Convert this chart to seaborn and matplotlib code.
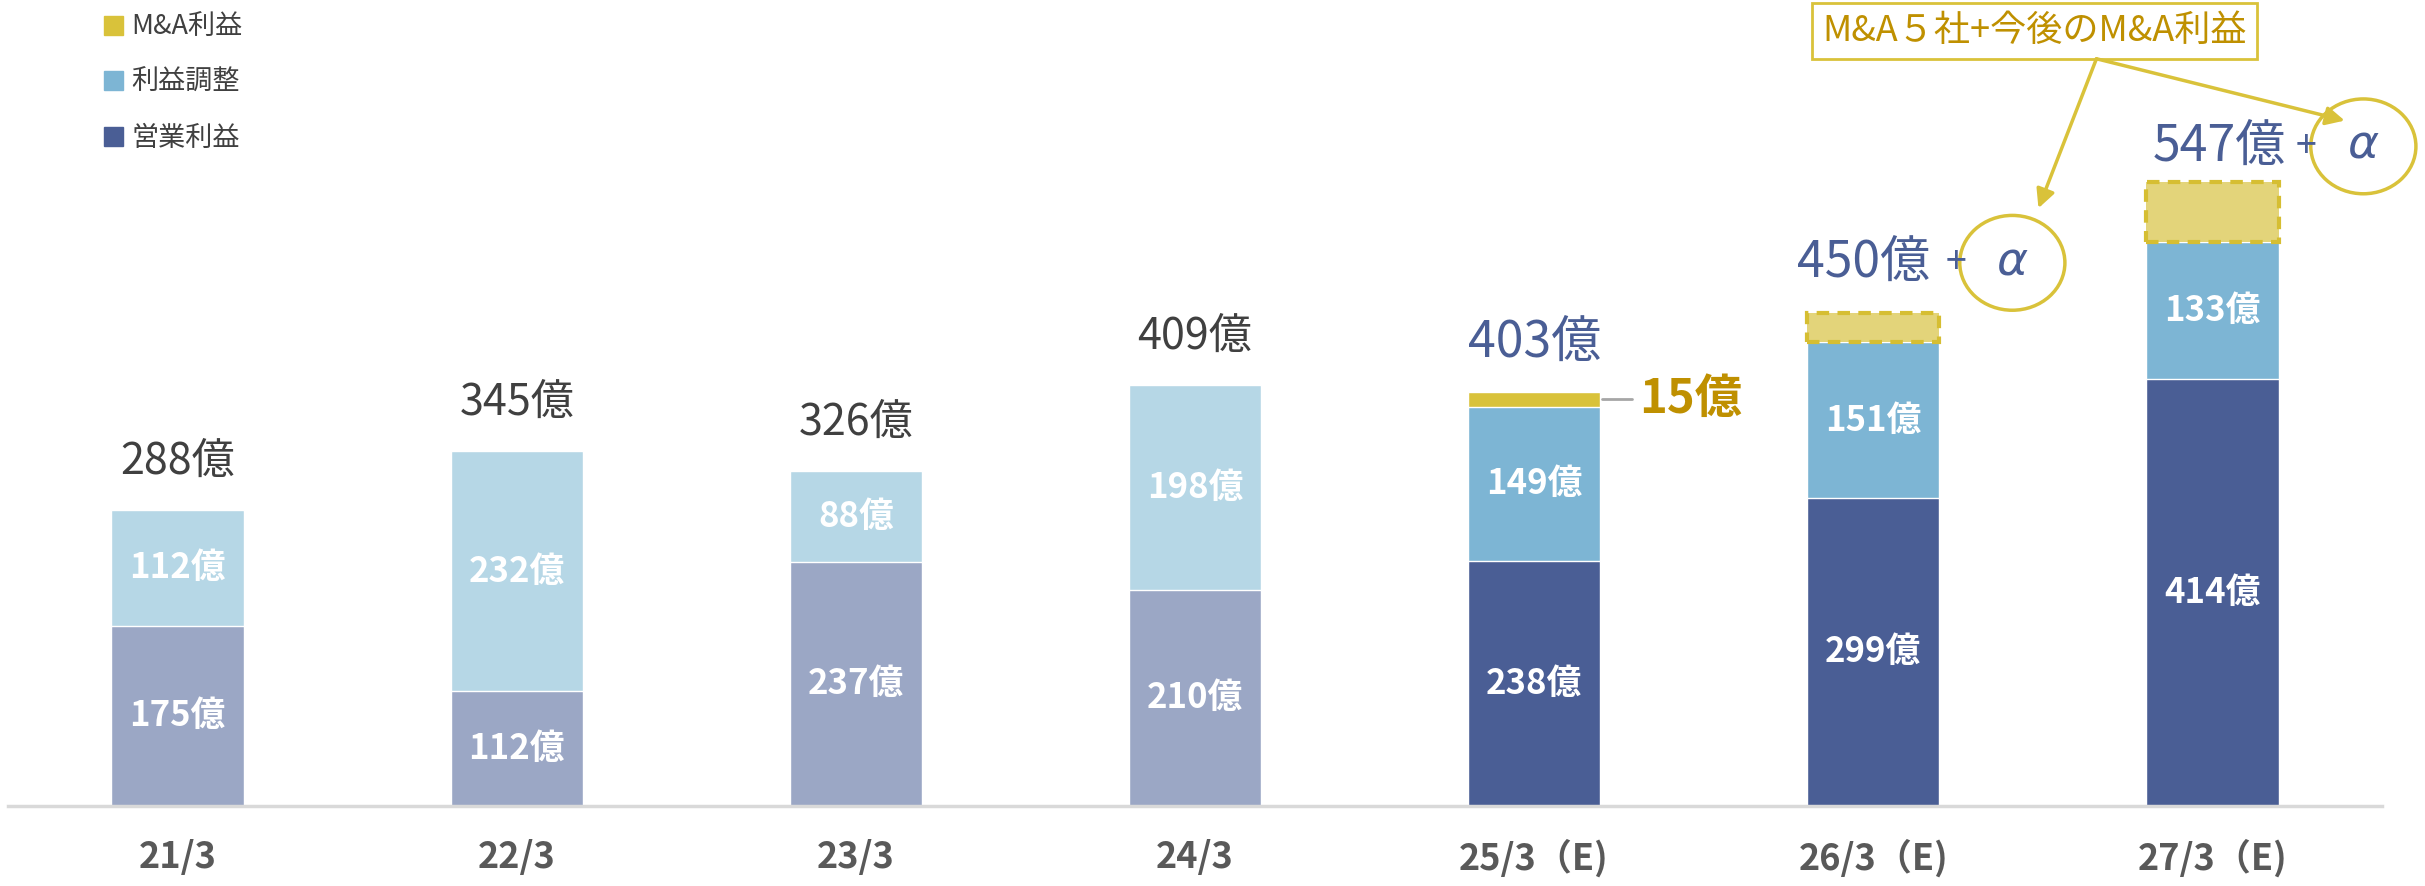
import numpy as np
import pandas as pd
import matplotlib
matplotlib.use('Agg')
import matplotlib.pyplot as plt
from matplotlib.patches import Ellipse, Patch
import seaborn as sns

sns.set_style('white')
plt.rcParams['font.family'] = ['Noto Sans CJK JP', 'DejaVu Sans']

# data
years = ['21/3', '22/3', '23/3', '24/3', '25/3（E)', '26/3（E)', '27/3（E)']
op_profit = [175, 112, 237, 210, 238, 299, 414]      # 営業利益
adjust = [112, 232, 88, 198, 149, 151, 133]          # 利益調整
ma_profit = [0, 0, 0, 0, 15, 0, 0]                   # M&A利益
ma_future = [0, 0, 0, 0, 0, 28, 58]                  # dashed "+α" boxes
totals = [288, 345, 326, 409, 403, 450, 547]

op_colors = ['#9BA7C5'] * 4 + ['#4A5E95'] * 3
adj_colors = ['#B6D7E6'] * 4 + ['#7DB5D4'] * 3
ma_color = '#D9C23A'
navy = '#4A5E95'

df = pd.DataFrame({'year': years, 'op': op_profit, 'adj': adjust, 'ma': ma_profit})
df['lvl2'] = df['op'] + df['adj']
df['lvl3'] = df['lvl2'] + df['ma']

fig = plt.figure(figsize=(24.25, 8.86), dpi=100)
ax = fig.add_axes([8 / 2425, 80 / 886, 2374 / 2425, 806 / 886])

W = 0.39
# stacked by overlap: tallest first
sns.barplot(data=df, x='year', y='lvl3', hue='year', palette=[ma_color] * 7,
            width=W, saturation=1, legend=False, ax=ax)
sns.barplot(data=df, x='year', y='lvl2', hue='year', palette=adj_colors,
            width=W, saturation=1, legend=False, ax=ax)
sns.barplot(data=df, x='year', y='op', hue='year', palette=op_colors,
            width=W, saturation=1, legend=False, ax=ax)

# dashed future M&A boxes
xs = np.arange(len(years))
for i in range(len(years)):
    if ma_future[i] > 0:
        ax.bar(xs[i], ma_future[i], bottom=df['lvl2'][i], width=W,
               color='#E3D47A', edgecolor='#D6BE32', linewidth=3,
               linestyle=(0, (3, 2)))

# labels inside bars
for i in range(len(years)):
    ax.text(xs[i], op_profit[i] / 2, f'{op_profit[i]}億', ha='center', va='center',
            color='white', fontsize=25, fontweight='bold')
    ax.text(xs[i], op_profit[i] + adjust[i] / 2, f'{adjust[i]}億', ha='center',
            va='center', color='white', fontsize=25, fontweight='bold')

# totals above bars
for i in range(4):
    ax.text(xs[i], totals[i] + 46, f'{totals[i]}億', ha='center', va='center',
            color='#404040', fontsize=31)
ax.text(4, 449, '403億', ha='center', va='center', color=navy, fontsize=36)
ax.plot([4.2, 4.29], [394.5, 394.5], color='#A6A6A6', lw=2)
ax.text(4.31, 395, '15億', ha='left', va='center', color='#BF9000',
        fontsize=34, fontweight='bold')

ax.text(4.97, 527, '450億', ha='center', va='center', color=navy, fontsize=36)
ax.text(5.245, 527, '+', ha='center', va='center', color=navy, fontsize=27)
ax.add_patch(Ellipse((5.41, 527), 0.31, 92, fill=False, ec=ma_color, lw=2.5,
                     clip_on=False))
ax.text(5.41, 527, 'α', ha='center', va='center', color=navy, fontsize=34,
        family='DejaVu Sans', style='italic')

ax.text(6.02, 640, '547億', ha='center', va='center', color=navy, fontsize=36)
ax.text(6.275, 640, '+', ha='center', va='center', color=navy, fontsize=27)
ax.add_patch(Ellipse((6.445, 640), 0.31, 92, fill=False, ec=ma_color, lw=2.5,
                     clip_on=False))
ax.text(6.445, 640, 'α', ha='center', va='center', color=navy, fontsize=34,
        family='DejaVu Sans', style='italic', clip_on=False)

# callout box and arrows
ax.text(5.475, 752, 'M&A５社+今後のM&A利益', ha='center', va='center',
        color='#BF9000', fontsize=26,
        bbox=dict(boxstyle='square,pad=0.28', fc='white', ec=ma_color, lw=2))
arrow = dict(arrowstyle='-|>', color=ma_color, lw=2.5, mutation_scale=28,
             shrinkA=0, shrinkB=0)
ax.annotate('', xy=(5.487, 580), xytext=(5.658, 725), arrowprops=arrow)
ax.annotate('', xy=(6.39, 665), xytext=(5.658, 725), arrowprops=arrow)

# axes styling
ax.set_xlim(-0.5, 6.5)
ax.set_ylim(0, 782)
ax.set_xlabel('')
ax.set_ylabel('')
ax.set_yticks([])
for s in ['top', 'left', 'right']:
    ax.spines[s].set_visible(False)
ax.spines['bottom'].set_color('#D9D9D9')
ax.spines['bottom'].set_linewidth(2.5)
ax.tick_params(axis='x', length=0, pad=24)
for lab in ax.get_xticklabels():
    lab.set_fontweight('bold')
    lab.set_fontsize(26)
    lab.set_color('#595959')

handles = [Patch(color=ma_color, label='M&A利益'),
           Patch(color=adj_colors[-1], label='利益調整'),
           Patch(color=navy, label='営業利益')]
fig.legend(handles=handles, loc='upper left', bbox_to_anchor=(0.033, 1.012),
           frameon=False, fontsize=19.5, handlelength=0.7, handleheight=0.7,
           handletextpad=0.3, labelspacing=1.05, labelcolor='#404040')

fig.savefig('out.png', dpi=100, facecolor='white')
